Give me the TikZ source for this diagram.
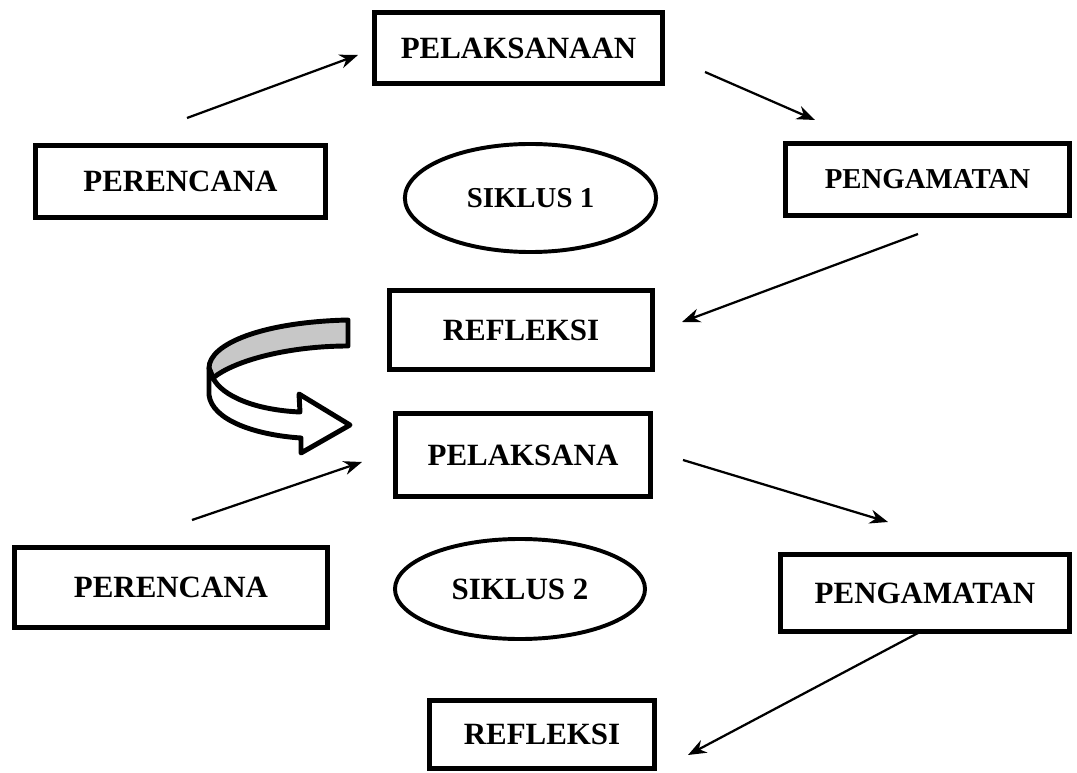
\documentclass[tikz,border=0pt]{standalone}
\usepackage{fontspec}
\setmainfont{Liberation Serif}
\usetikzlibrary{shapes.geometric,arrows.meta}

\begin{document}
\begin{tikzpicture}[x=0.025cm,y=-0.025cm,
	box/.style={draw,line width=3.8pt,inner sep=0pt,font=\fontsize{22}{26}\selectfont\bfseries},
	oval/.style={draw,ellipse,line width=2.8pt,inner sep=0pt,font=\fontsize{22}{26}\selectfont\bfseries},
	flow/.style={line width=1.6pt,-{Stealth[length=13pt,width=10pt]}},
	ribbon/.style={line width=3.5pt,line join=round}]
	\useasboundingbox (0,0) rectangle (1077,773);

	\node[box,minimum width=7.19cm,minimum height=1.76cm] (pelaksanaan) at (518.5,48) {PELAKSANAAN};
	\node[box,minimum width=7.24cm,minimum height=1.79cm] (rencana1) at (180.5,181.5) {PERENCANA};
	\node[box,minimum width=7.09cm,minimum height=1.79cm,font=\fontsize{20.5}{24}\selectfont\bfseries] (amat1) at (927.5,179.5) {PENGAMATAN};
	\node[oval,minimum width=6.28cm,minimum height=2.7cm,font=\fontsize{20.5}{24}\selectfont\bfseries] (siklus1) at (530.5,198) {SIKLUS 1};
	\node[box,minimum width=6.56cm,minimum height=1.96cm] (refleksi1) at (521,330) {REFLEKSI};

	\node[box,minimum width=6.36cm,minimum height=2.06cm] (pelaksana) at (523,455) {PELAKSANA};
	\node[box,minimum width=7.81cm,minimum height=1.99cm] (rencana2) at (171,587.5) {PERENCANA};
	\node[oval,minimum width=6.25cm,minimum height=2.5cm] (siklus2) at (520,589) {SIKLUS 2};
	\node[box,minimum width=7.21cm,minimum height=1.91cm] (amat2) at (925,593) {PENGAMATAN};
	\node[box,minimum width=5.61cm,minimum height=1.69cm] (refleksi2) at (542,734.5) {REFLEKSI};

	\coordinate (a1s) at (187,118);  \coordinate (a1e) at (358,55);
	\coordinate (a2s) at (705,72);   \coordinate (a2e) at (815,120);
	\coordinate (a3s) at (918,234);  \coordinate (a3e) at (682,322);
	\coordinate (a4s) at (192,520);  \coordinate (a4e) at (362,462);
	\coordinate (a5s) at (683,460);  \coordinate (a5e) at (888,522);
	\coordinate (a6s) at (918,633);  \coordinate (a6e) at (688,755);

	\draw[flow] (a1s) -- (a1e);
	\draw[flow] (a2s) -- (a2e);
	\draw[flow] (a3s) -- (a3e);
	\draw[flow] (a4s) -- (a4e);
	\draw[flow] (a5s) -- (a5e);
	\draw[flow] (a6s) -- (a6e);

	\draw[ribbon,fill=black!22] (348,320) .. controls (262,322) and (209,344) .. (209,368) -- (213,378)
		.. controls (235,360) and (290,346) .. (348,346) -- cycle;
	\draw[ribbon,fill=white] (209,368) -- (209,395) .. controls (212,420) and (255,435) .. (301,438)
		-- (301,453) -- (350,425) -- (299,394) -- (300,412)
		.. controls (255,410) and (222,396) .. (213,378) -- cycle;
\end{tikzpicture}
\end{document}
